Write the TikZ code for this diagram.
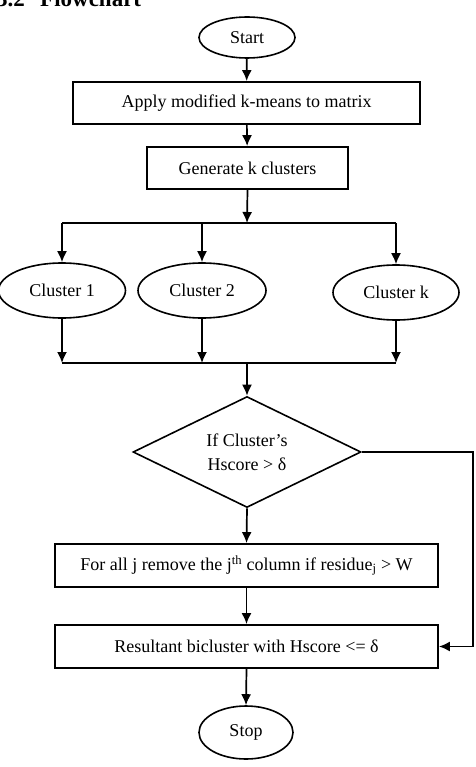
\documentclass[tikz,border=0pt]{standalone}
\usepackage{fontspec}
\setmainfont{Liberation Serif}
\usetikzlibrary{shapes.geometric,arrows.meta,calc}
\begin{document}
\begin{tikzpicture}[x=1pt,y=-1pt,
  every node/.style={font=\fontsize{18}{21}\selectfont, inner sep=0pt},
  boxnode/.style={draw, rectangle, line width=1.8pt, minimum height=42pt},
  ovalnode/.style={draw, ellipse, line width=1.6pt},
  decnode/.style={draw, diamond, line width=1.6pt, aspect=2.05, minimum width=228pt, minimum height=111pt},
  arr/.style={line width=1.7pt, -{Latex[length=11pt,width=10pt]}},
  ln/.style={line width=1.7pt}]
\useasboundingbox (0,0) rectangle (475,767);
\node[anchor=base east, font=\fontsize{23}{26}\selectfont\bfseries] (num) at (25,7) {3.2};
\node[anchor=base west, font=\fontsize{23}{26}\selectfont\bfseries] (title) at (40,7) {Flowchart};

\node[ovalnode, minimum width=96pt, minimum height=41pt] (start) at (247,37.5) {Start};
\node[boxnode, minimum width=347pt] (apply) at (246.5,103) {Apply modified k-means to matrix};
\node[boxnode, minimum width=201pt] (gen) at (247.5,168) {Generate k clusters};

\coordinate (tj) at (247,223);
\coordinate (t1) at (62,223);
\coordinate (t2) at (202,223);
\coordinate (tk) at (396,223);

\node[ovalnode, minimum width=127pt, minimum height=55pt] (c1) at (62,290.5) {Cluster 1};
\node[ovalnode, minimum width=128pt, minimum height=55pt] (c2) at (202,290.5) {Cluster 2};
\node[ovalnode, minimum width=126pt, minimum height=55pt] (ck) at (396,292.5) {Cluster k};

\coordinate (b1) at (62,363);
\coordinate (b2) at (202,363);
\coordinate (bk) at (396,363);
\coordinate (bj) at (247,363);

\node[decnode, align=center] (dec) at (247,452) {If Cluster’s\\[3pt]Hscore > δ};
\node[boxnode, minimum width=383pt, minimum height=43pt] (forall) at (246.5,565.5) {For all j remove the j\textsuperscript{th} column if residue\textsubscript{j} > W};
\node[boxnode, minimum width=383pt, minimum height=43pt] (result) at (246.5,646.5) {Resultant bicluster with Hscore <= δ};
\node[ovalnode, minimum width=94pt, minimum height=53pt] (stop) at (246,732.5) {Stop};
\coordinate (rc) at (473,452);

\draw[arr] (start) -- (apply);
\draw[arr] (apply) -- (gen);
\draw[arr] (gen.south) -- (tj);
\draw[ln] (t1) -- (tk);
\draw[arr] (t1) -- (c1.north);
\draw[arr] (t2) -- (c2.north);
\draw[arr] (tk) -- (ck.north);
\draw[arr] (c1.south) -- (b1);
\draw[arr] (c2.south) -- (b2);
\draw[arr] (ck.south) -- (bk);
\draw[ln] (b1) -- (bk);
\draw[arr] (bj) -- (dec.north);
\draw[arr] (dec.south) -- (forall.north);
\draw[arr] (forall.south) -- (result.north);
\draw[arr] (result.south) -- (stop.north);
\draw[arr] (dec.east) -- (rc) |- (result.east);
\end{tikzpicture}
\end{document}
